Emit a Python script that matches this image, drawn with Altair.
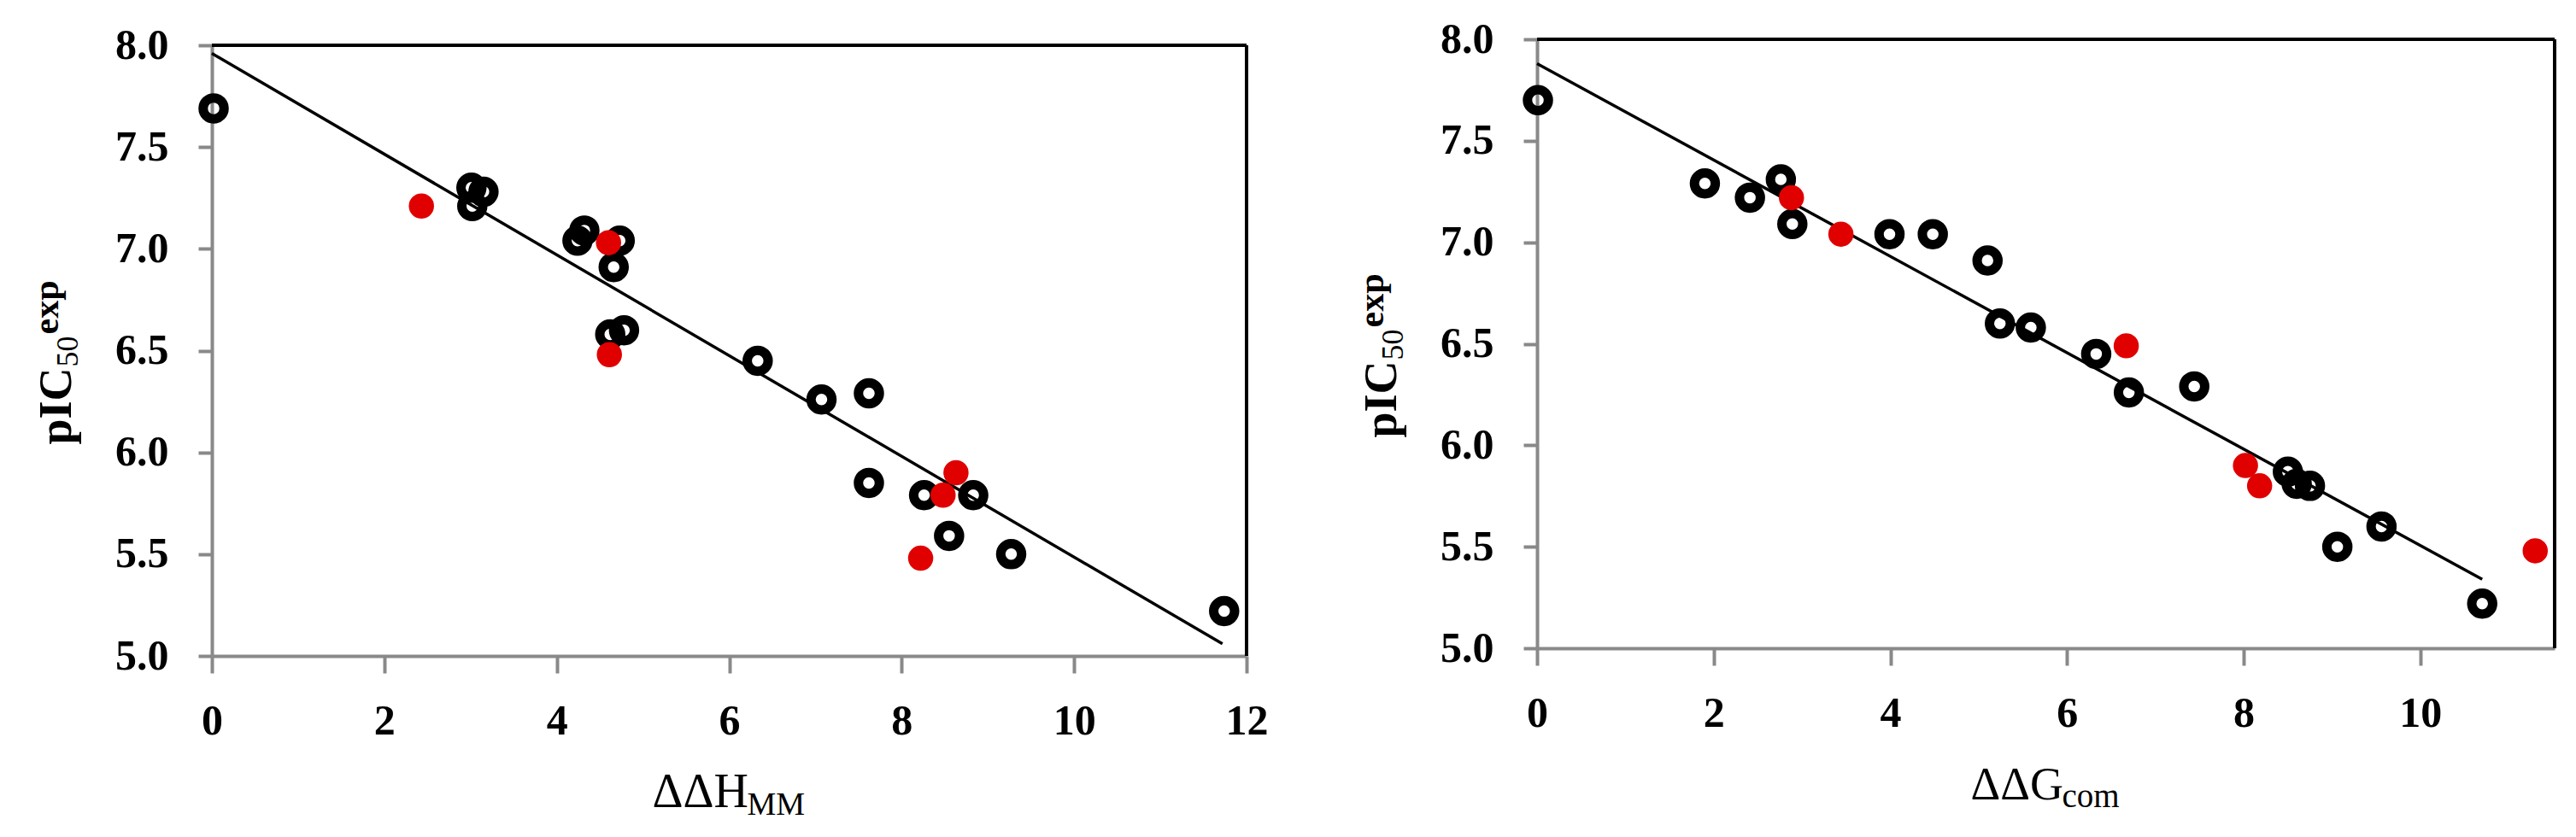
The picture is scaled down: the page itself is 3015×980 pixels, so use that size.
import altair as alt
import pandas as pd

# ---------------- data ----------------
# Left panel: pIC50exp vs ΔΔH_MM
h_train_x = [0.02, 3.01, 3.15, 3.02, 4.32, 4.24, 4.73, 4.66, 4.62, 4.78, 6.33, 7.07, 7.62, 7.62, 8.26, 8.83, 8.55, 9.27, 11.74]
h_train_y = [7.69, 7.30, 7.28, 7.21, 7.09, 7.04, 7.04, 6.91, 6.58, 6.60, 6.45, 6.26, 6.29, 5.85, 5.79, 5.79, 5.59, 5.50, 5.22]
h_test_x = [2.43, 4.60, 4.61, 8.63, 8.48, 8.22]
h_test_y = [7.21, 7.03, 6.48, 5.90, 5.79, 5.48]
h_fit_x = [0.0, 11.72]
h_fit_y = [7.96, 5.06]
h_xticks = [0, 2, 4, 6, 8, 10, 12]

# Right panel: pIC50exp vs ΔΔG_com
g_train_x = [0.01, 1.90, 2.41, 2.76, 2.89, 3.99, 4.48, 5.10, 5.24, 5.59, 6.33, 6.70, 7.44, 8.50, 8.60, 8.75, 9.06, 9.56, 10.70]
g_train_y = [7.70, 7.29, 7.22, 7.31, 7.09, 7.04, 7.04, 6.91, 6.60, 6.58, 6.45, 6.26, 6.29, 5.87, 5.81, 5.80, 5.50, 5.60, 5.22]
g_test_x = [2.88, 3.44, 6.67, 8.02, 8.18, 11.30]
g_test_y = [7.22, 7.04, 6.49, 5.90, 5.80, 5.48]
g_fit_x = [0.0, 10.70]
g_fit_y = [7.88, 5.34]
g_xticks = [0, 2, 4, 6, 8, 10]

y_ticks = [5.0, 5.5, 6.0, 6.5, 7.0, 7.5, 8.0]

FONT = "Liberation Serif"
GRAY = "#898989"
RED = "#E00000"
HT = 722  # common panel height; each panel's frame sits inside it


def panel(tx, ty, rx, ry, fx, fy, xmax, xticks, W, top_px, bot_px, main, sub, main_fs,
          sub_fs, main_w):
    xs = alt.Scale(domain=[0, xmax], nice=False, zero=False)
    ys = alt.Scale(domain=[5, 8], nice=False, zero=False, range=[bot_px, top_px])
    common = dict(title=None, grid=False, domainColor=GRAY, domainWidth=4, tickColor=GRAY,
                  tickWidth=4, labelFont=FONT, labelFontSize=50, labelFontWeight="bold",
                  labelColor="black")
    xa = alt.Axis(values=xticks, format="d", tickSize=20, labelPadding=31,
                  labelFlush=False, offset=bot_px - HT, **common)
    ya = alt.Axis(values=y_ticks, format=".1f", tickSize=16, labelPadding=35, **common)
    X = alt.X("x:Q", scale=xs, axis=xa)
    Y = alt.Y("y:Q", scale=ys, axis=ya)

    fit = alt.Chart(pd.DataFrame({"x": fx, "y": fy})).mark_line(
        color="black", strokeWidth=3.5).encode(x=X, y=Y)
    rings = alt.Chart(pd.DataFrame({"x": tx, "y": ty})).mark_point(
        shape="circle", filled=False, color="black", strokeWidth=11, size=600,
        opacity=1).encode(x=X, y=Y)
    dots = alt.Chart(pd.DataFrame({"x": rx, "y": ry})).mark_circle(
        color=RED, size=870, opacity=1).encode(x=X, y=Y)

    one = pd.DataFrame({"a": [0]})
    top = alt.Chart(one).mark_rule(color="black", strokeWidth=4).encode(
        x=alt.value(0), x2=alt.value(W), y=alt.value(top_px))
    right = alt.Chart(one).mark_rule(color="black", strokeWidth=4).encode(
        x=alt.value(W), y=alt.value(top_px), y2=alt.value(bot_px))

    # x-axis title with subscript
    x0 = W / 2 - (main_w + 70) / 2
    xt_main = alt.Chart(one).mark_text(
        text=main, font=FONT, fontSize=main_fs, align="left", baseline="alphabetic",
        color="black").encode(x=alt.value(x0), y=alt.value(bot_px + 177))
    xt_sub = alt.Chart(one).mark_text(
        text=sub, font=FONT, fontSize=sub_fs, align="left", baseline="alphabetic",
        color="black").encode(x=alt.value(x0 + main_w + 1), y=alt.value(bot_px + 186))

    # y-axis title pIC50^exp, rotated
    ybase = (top_px + bot_px) / 2 + 110
    yt1 = alt.Chart(one).mark_text(
        text="pIC", font=FONT, fontSize=54, fontWeight="bold", align="left",
        baseline="alphabetic", angle=270, color="black").encode(
        x=alt.value(-165), y=alt.value(ybase))
    yt2 = alt.Chart(one).mark_text(
        text="50", font=FONT, fontSize=36, align="left",
        baseline="alphabetic", angle=270, color="black").encode(
        x=alt.value(-157), y=alt.value(ybase - 91))
    yt3 = alt.Chart(one).mark_text(
        text="exp", font=FONT, fontSize=42, fontWeight="bold", align="left",
        baseline="alphabetic", angle=270, color="black").encode(
        x=alt.value(-180), y=alt.value(ybase - 91 - 38))

    return alt.layer(fit, rings, dots, top, right, xt_main, xt_sub, yt1, yt2, yt3).properties(
        width=W, height=HT)


left = panel(h_train_x, h_train_y, h_test_x, h_test_y, h_fit_x, h_fit_y, 12, h_xticks,
             1211, 7, 722, "ΔΔH", "MM", 56, 38, 110)
right = panel(g_train_x, g_train_y, g_test_x, g_test_y, g_fit_x, g_fit_y, 11.52, g_xticks,
              1191, 0, 713, "ΔΔG", "com", 54, 39, 106)

chart = alt.hconcat(left, right, spacing=101).properties(
    padding={"left": 26, "top": 13, "right": 5, "bottom": 5},
    background="white"
).configure_view(stroke=None)

chart.save("out.html", embed_options={"renderer": "svg", "actions": False})
